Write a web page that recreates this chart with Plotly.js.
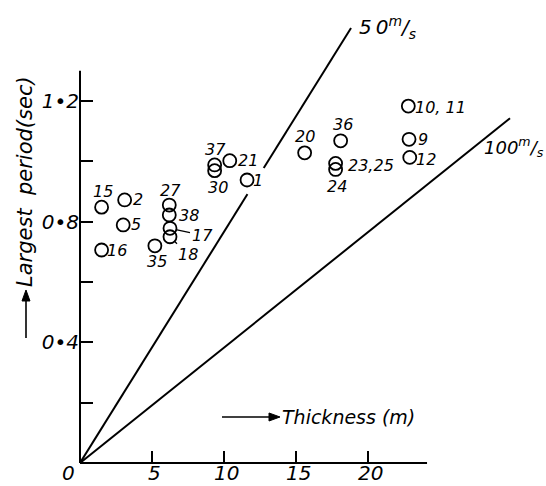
<!DOCTYPE html>
<html>
<head>
<meta charset="utf-8">
<script src="https://cdn.plot.ly/plotly-3.0.1.min.js"></script>
<style>html,body{margin:0;padding:0;background:#fff;}#chart{width:546px;height:486px;}</style>
</head>
<body>
<div id="chart"></div>
<script>
// ---- data ----
const pointLabels = ["15","2","5","16","27","38","17","18","35","37","30","21","1","20","36","23,25","24","10, 11","9","12"];
const thickness   = [1.5, 3.1, 3.0, 1.5, 6.2, 6.2, 6.25, 6.25, 5.2, 9.35, 9.35, 10.4, 11.6, 15.6, 18.1, 17.75, 17.75, 22.8, 22.85, 22.9];
const period      = [0.848, 0.872, 0.789, 0.706, 0.855, 0.822, 0.778, 0.750, 0.720, 0.988, 0.969, 1.002, 0.938, 1.028, 1.068, 0.993, 0.973, 1.183, 1.073, 1.013];

const line50x  = [0, 18.82];
const line50y  = [0, 1.442];
const line100x = [0, 29.86];
const line100y = [0, 1.1425];

const xTickVals  = [5, 10, 15, 20];
const xTickText  = ["5", "10", "15", "20"];
const yTickVals  = [0.4, 0.8, 1.2];
const yTickText  = ["0•4", "0•8", "1•2"];
const yMinorVals = [0.2, 0.6, 1.0];
const xAxisEnd = 24.1;
const yAxisEnd = 1.30;

// ---- layout config ----
const W = 546, H = 486;
const M = {l: 80, r: 5, t: 10, b: 23};
const pxPerX = 14.4, pxPerY = 301.7;
const plotW = W - M.l - M.r, plotH = H - M.t - M.b;
const xMax = plotW / pxPerX, yMax = plotH / pxPerY;
const FONT = "DejaVu Sans";
const italic = (size) => ({family: FONT, size: size, color: "#000", style: "italic"});

// label offsets in pixels [dx, dy(up)] — layout, not data
const labelOffsets = {
  "15": [1, 16], "2": [13, 0], "5": [13, 0], "16": [15, 0],
  "27": [1, 15], "38": [20, 0], "35": [2, -16],
  "37": [1, 15], "30": [3, -17], "21": [18, 0], "1": [11, 0],
  "20": [0, 16], "36": [2, 16], "23,25": [35, -2], "24": [1, -17],
  "10, 11": [32, -1], "9": [14, 0], "12": [16, -2]
};
const leaderLabels = {"17": [32, 7], "18": [18, 18]};
// break in the 50 m/s line where the label "1" sits (fractions along the line)
const gapFrom = 0.618, gapTo = 0.678;

const px2paperX = (px) => (px - M.l) / plotW;
const px2paperY = (py) => (H - M.b - py) / plotH;

const annotations = [];
pointLabels.forEach((lab, i) => {
  if (leaderLabels[lab]) {
    const o = leaderLabels[lab];
    annotations.push({x: thickness[i], y: period[i], xref: "x", yref: "y", text: lab,
      showarrow: true, arrowhead: 0, arrowwidth: 1.3, arrowcolor: "#000",
      ax: o[0], ay: o[1], standoff: 6, font: italic(16)});
  } else {
    const o = labelOffsets[lab] || [14, 0];
    annotations.push({x: thickness[i], y: period[i], xref: "x", yref: "y", text: lab,
      showarrow: false, xshift: o[0], yshift: o[1], xanchor: "center", yanchor: "middle",
      font: italic(16)});
  }
});

// x tick labels, placed by the x axis scale
xTickVals.forEach((v, i) => {
  annotations.push({x: v, xref: "x", y: px2paperY(487), yref: "paper", yanchor: "bottom", xanchor: "center",
    text: xTickText[i], showarrow: false, font: italic(20), xshift: 2});
});
// origin label
annotations.push({x: px2paperX(68), y: px2paperY(487), xref: "paper", yref: "paper", yanchor: "bottom", xanchor: "center",
  text: "0", showarrow: false, font: italic(20)});

// line labels
annotations.push({x: px2paperX(357), y: px2paperY(11), xref: "paper", yref: "paper", xanchor: "left", yanchor: "top",
  text: "5\u20090<sup>m</sup>/<sub>s</sub>", showarrow: false, font: italic(20)});
annotations.push({x: px2paperX(482), y: px2paperY(132), xref: "paper", yref: "paper", xanchor: "left", yanchor: "top",
  text: "100<sup>m</sup>/<sub>s</sub>", showarrow: false, font: italic(18)});

// axis labels
annotations.push({x: px2paperX(348), y: px2paperY(417), xref: "paper", yref: "paper", xanchor: "center", yanchor: "middle",
  text: "Thickness (m)", showarrow: false, font: italic(19)});
annotations.push({x: px2paperX(25), y: px2paperY(182), xref: "paper", yref: "paper", xanchor: "center", yanchor: "middle",
  text: "Largest  period(sec)", textangle: -90, showarrow: false, font: italic(21)});

// arrow shapes (shaft + head) built in pixel space
const P = (px, py) => px2paperX(px).toFixed(5) + "," + px2paperY(py).toFixed(5);
const arrowShapes = [
  {type: "line", xref: "paper", yref: "paper", x0: px2paperX(222), y0: px2paperY(417), x1: px2paperX(271), y1: px2paperY(417),
   line: {color: "#000", width: 1.6}},
  {type: "path", xref: "paper", yref: "paper", path: "M" + P(280, 417) + " L" + P(269, 413) + " L" + P(269, 421) + " Z",
   fillcolor: "#000", line: {color: "#000", width: 1}},
  {type: "line", xref: "paper", yref: "paper", x0: px2paperX(26), y0: px2paperY(338), x1: px2paperX(26), y1: px2paperY(300),
   line: {color: "#000", width: 1.6}},
  {type: "path", xref: "paper", yref: "paper", path: "M" + P(26, 290) + " L" + P(22, 301) + " L" + P(30, 301) + " Z",
   fillcolor: "#000", line: {color: "#000", width: 1}}
];

const lerp = (a, t) => a[0] + (a[1] - a[0]) * t;
const traces = [
  {x: line50x, y: line50y, mode: "lines", line: {color: "#000", width: 2}, hoverinfo: "skip"},
  {x: [lerp(line50x, gapFrom), lerp(line50x, gapTo)], y: [lerp(line50y, gapFrom), lerp(line50y, gapTo)],
   mode: "lines", line: {color: "#fff", width: 5}, hoverinfo: "skip"},
  {x: line100x, y: line100y, mode: "lines", line: {color: "#000", width: 2}, hoverinfo: "skip"},
  {x: thickness, y: period, mode: "markers", cliponaxis: false,
   marker: {symbol: "circle-open", size: 13, color: "#000", line: {color: "#000", width: 1.8}}}
];

const layout = {
  width: W, height: H, margin: M,
  paper_bgcolor: "#fff", plot_bgcolor: "#fff",
  showlegend: false,
  xaxis: {range: [0, xMax], showgrid: false, zeroline: false, showline: false,
    tickmode: "array", tickvals: xTickVals, showticklabels: false,
    ticks: "inside", ticklen: 12, tickwidth: 2, tickcolor: "#000"},
  yaxis: {range: [0, yMax], showgrid: false, zeroline: false, showline: false,
    tickmode: "array", tickvals: yTickVals, ticktext: yTickText,
    ticks: "inside", ticklen: 13, tickwidth: 2, tickcolor: "#000",
    tickfont: italic(20),
    minor: {tickmode: "array", tickvals: yMinorVals, ticks: "inside", ticklen: 13, tickwidth: 2, tickcolor: "#000", showgrid: false}},
  shapes: [
    {type: "line", xref: "paper", yref: "paper", x0: 0, x1: xAxisEnd / xMax, y0: 0, y1: 0,
     line: {color: "#000", width: 2}},
    {type: "line", xref: "paper", yref: "paper", x0: 0, x1: 0, y0: 0, y1: yAxisEnd / yMax,
     line: {color: "#000", width: 2}}
  ].concat(arrowShapes),
  annotations: annotations
};

Plotly.newPlot("chart", traces, layout, {staticPlot: true, displayModeBar: false});
</script>
</body>
</html>
